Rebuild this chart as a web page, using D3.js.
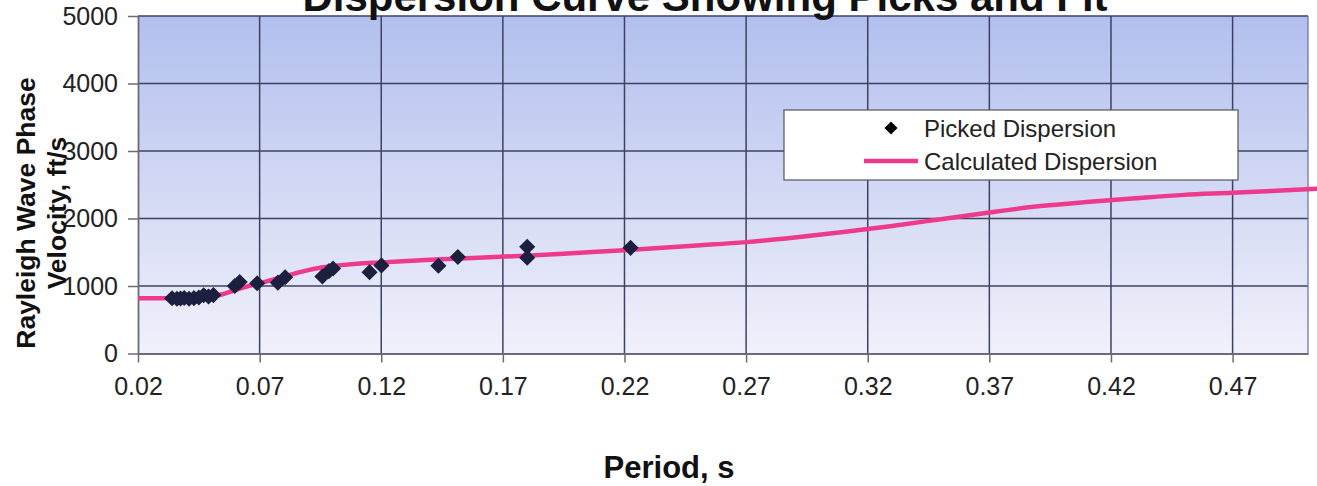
<!DOCTYPE html>
<html>
<head>
<meta charset="utf-8">
<script src="https://cdn.jsdelivr.net/npm/d3@7"></script>
<style>
  html, body { margin: 0; padding: 0; background: #ffffff; }
  svg { display: block; font-family: "Liberation Sans", Arial, sans-serif; }
</style>
</head>
<body>
<svg id="chart" width="1317" height="486"></svg>
<script>
// ---- data ----
const titleText = "Dispersion Curve Showing Picks and Fit";
const xTitle = "Period, s";
const yTitleLines = ["Rayleigh Wave Phase", "Velocity, ft/s"];
const xTicks = [0.02, 0.07, 0.12, 0.17, 0.22, 0.27, 0.32, 0.37, 0.42, 0.47];
const yTicks = [0, 1000, 2000, 3000, 4000, 5000];

// Picked dispersion (period s, velocity ft/s)
const pickedPeriod = [0.034, 0.036, 0.0375, 0.039, 0.041, 0.043, 0.045, 0.047, 0.049, 0.051,
                      0.0598, 0.0618, 0.069, 0.0775, 0.0805,
                      0.0958, 0.0985, 0.1002, 0.1152, 0.1201,
                      0.1435, 0.1515, 0.180, 0.180, 0.2225];
const pickedVelocity = [818, 812, 815, 822, 812, 820, 830, 862, 845, 865,
                        1000, 1060, 1040, 1050, 1130,
                        1140, 1220, 1260, 1205, 1305,
                        1300, 1430, 1580, 1420, 1565];

// Calculated dispersion curve
const calcPeriod = [0.02, 0.03, 0.04, 0.05, 0.055, 0.06, 0.065, 0.07, 0.075, 0.08,
                    0.085, 0.09, 0.095, 0.10, 0.11, 0.12, 0.14, 0.16, 0.18, 0.20,
                    0.22, 0.25, 0.27, 0.29, 0.31, 0.33, 0.35, 0.37, 0.39, 0.41,
                    0.43, 0.45, 0.47, 0.49, 0.505];
const calcVelocity = [820, 820, 822, 840, 880, 940, 995, 1040, 1090, 1140,
                      1190, 1235, 1270, 1295, 1330, 1350, 1390, 1420, 1450, 1490,
                      1530, 1600, 1650, 1720, 1800, 1890, 1990, 2090, 2180, 2245,
                      2300, 2350, 2380, 2415, 2440];

const legendLabels = ["Picked Dispersion", "Calculated Dispersion"];

// ---- layout ----
const svg = d3.select("#chart");
const plot = { left: 138, right: 1308, top: 16, bottom: 353.5 };
const x = d3.scaleLinear().domain([0.02, 0.501]).range([plot.left, plot.right]);
const y = d3.scaleLinear().domain([0, 5000]).range([plot.bottom, plot.top]);

const pink = "#ee3a8c";
const markerColor = "#1c1f3e";
const gridColor = "#3c4260";

// background gradient
const defs = svg.append("defs");
const grad = defs.append("linearGradient").attr("id", "bg")
  .attr("x1", 0).attr("y1", 0).attr("x2", 0).attr("y2", 1);
grad.append("stop").attr("offset", "0%").attr("stop-color", "#b2bfee");
grad.append("stop").attr("offset", "50%").attr("stop-color", "#d2d8f4");
grad.append("stop").attr("offset", "100%").attr("stop-color", "#f1f1fb");

svg.append("rect")
  .attr("x", plot.left).attr("y", plot.top)
  .attr("width", plot.right - plot.left).attr("height", plot.bottom - plot.top)
  .attr("fill", "url(#bg)");

// gridlines
const grid = svg.append("g");
grid.selectAll("line.h").data(yTicks.filter(d => d > 0)).join("line")
  .attr("x1", plot.left).attr("x2", plot.right)
  .attr("y1", d => y(d)).attr("y2", d => y(d))
  .attr("stroke", gridColor).attr("stroke-width", 1.5);
grid.selectAll("line.v").data(xTicks.filter(d => d > 0.02)).join("line")
  .attr("y1", plot.top).attr("y2", plot.bottom)
  .attr("x1", d => x(d)).attr("x2", d => x(d))
  .attr("stroke", gridColor).attr("stroke-width", 1.5);
// right border
svg.append("line").attr("x1", plot.right).attr("x2", plot.right)
  .attr("y1", plot.top).attr("y2", plot.bottom)
  .attr("stroke", "#6a7090").attr("stroke-width", 1.2);

// axes
const xAxis = d3.axisBottom(x).tickValues(xTicks).tickFormat(d3.format(".2f"))
  .tickSize(9).tickSizeOuter(0).tickPadding(15);
const gx = svg.append("g").attr("transform", `translate(0,${plot.bottom})`).call(xAxis);
gx.select(".domain").attr("stroke", "#6b6b78").attr("stroke-width", 1.8);
gx.selectAll(".tick line").attr("stroke", "#6b6b78").attr("stroke-width", 1.5);
gx.selectAll(".tick text").attr("font-size", 25).attr("fill", "#222")
  .attr("font-family", "Liberation Sans, Arial, sans-serif");

const yAxis = d3.axisLeft(y).tickValues(yTicks).tickFormat(d3.format("d"))
  .tickSize(10).tickSizeOuter(0).tickPadding(10);
const gy = svg.append("g").attr("transform", `translate(${plot.left},0)`).call(yAxis);
gy.select(".domain").attr("stroke", "#6b6b78").attr("stroke-width", 1.8);
gy.selectAll(".tick line").attr("stroke", "#6b6b78").attr("stroke-width", 1.5);
gy.selectAll(".tick text").attr("font-size", 25).attr("fill", "#222")
  .attr("font-family", "Liberation Sans, Arial, sans-serif");

// calculated line
const calcData = calcPeriod.map((p, i) => [p, calcVelocity[i]]);
const lineGen = d3.line().x(d => x(d[0])).y(d => y(d[1])).curve(d3.curveMonotoneX);
svg.append("path").datum(calcData)
  .attr("d", lineGen).attr("fill", "none")
  .attr("stroke", pink).attr("stroke-width", 4.5).attr("stroke-linejoin", "round");

// picked markers
const pickedData = pickedPeriod.map((p, i) => [p, pickedVelocity[i]]);
const diamond = d3.symbol().type(d3.symbolDiamond2).size(165);
svg.append("g").selectAll("path").data(pickedData).join("path")
  .attr("d", diamond)
  .attr("transform", d => `translate(${x(d[0])},${y(d[1])})`)
  .attr("fill", markerColor);

// legend
const lg = svg.append("g");
lg.append("rect").attr("x", 784).attr("y", 110).attr("width", 454).attr("height", 70)
  .attr("fill", "#ffffff").attr("stroke", "#555").attr("stroke-width", 1.2);
lg.append("path").attr("d", d3.symbol().type(d3.symbolDiamond2).size(110))
  .attr("transform", "translate(891,128)").attr("fill", "#000");
lg.append("line").attr("x1", 864).attr("x2", 918).attr("y1", 161).attr("y2", 161)
  .attr("stroke", pink).attr("stroke-width", 4.5);
lg.selectAll("text").data(legendLabels).join("text")
  .attr("x", 924).attr("y", (d, i) => i === 0 ? 128 : 161)
  .attr("dominant-baseline", "central")
  .attr("font-size", 24).attr("fill", "#222").text(d => d);

// titles
svg.append("text").attr("x", 705).attr("y", 11).attr("text-anchor", "middle")
  .attr("font-size", 42).attr("font-weight", "bold").attr("fill", "#111").text(titleText);

svg.append("text").attr("x", 669).attr("y", 478).attr("text-anchor", "middle")
  .attr("font-size", 31).attr("font-weight", "bold").attr("fill", "#111").text(xTitle);

const yt = svg.append("text").attr("text-anchor", "middle")
  .attr("transform", "translate(0,213) rotate(-90)")
  .attr("font-size", 26.5).attr("font-weight", "bold").attr("fill", "#111");
yt.selectAll("tspan").data(yTitleLines).join("tspan")
  .attr("x", 0).attr("y", (d, i) => 35 + i * 31).text(d => d);
</script>
</body>
</html>
